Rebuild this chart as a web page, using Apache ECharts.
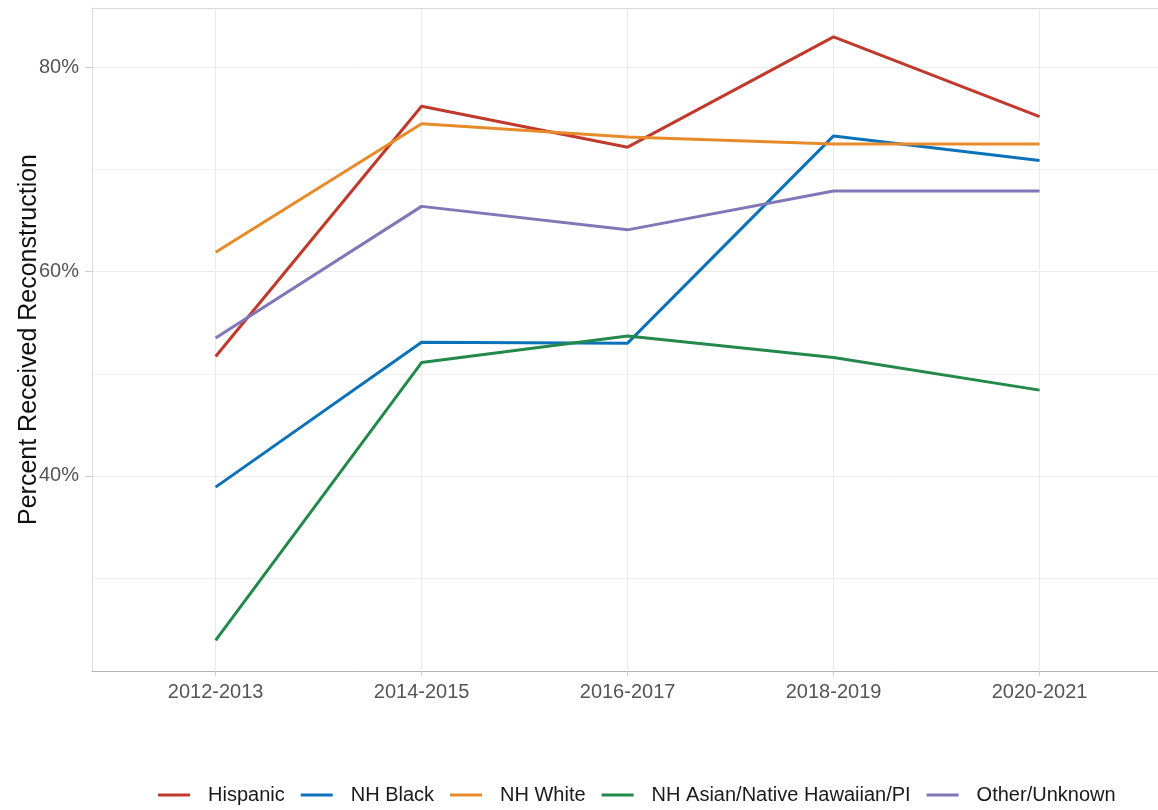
<!DOCTYPE html>
<html>
<head>
  <meta charset="utf-8">
  <title>Percent Received Reconstruction</title>
  <script src="https://cdn.jsdelivr.net/npm/echarts@6/dist/echarts.min.js"></script>
  <style>
    html, body { margin: 0; padding: 0; background: #fff; }
    #chart { width: 1158px; height: 810px; }
  </style>
</head>
<body>
  <div id="chart"></div>
  <script>
  // periods on the x axis
  var periods = ['2012-2013', '2014-2015', '2016-2017', '2018-2019', '2020-2021'];
  var groups = ['Hispanic', 'NH Black', 'NH White', 'NH Asian/Native Hawaiian/PI', 'Other/Unknown'];
  // percent received reconstruction
  var hispanic = [51.7, 76.2, 72.2, 83.0, 75.2];
  var nhBlack = [38.9, 53.1, 53.0, 73.3, 70.9];
  var nhWhite = [61.9, 74.5, 73.2, 72.5, 72.5];
  var nhAsian = [23.9, 51.1, 53.7, 51.6, 48.4];
  var other = [53.5, 66.4, 64.1, 67.9, 67.9];
  var majorTicks = [40, 60, 80];
  var minorTicks = [30, 50, 70];
  var colors = ['#c0392b', '#0b72b9', '#e78b2a', '#23894b', '#8077b9'];

  var chart = echarts.init(document.getElementById('chart'));
  var font = '"Liberation Sans", Arial, sans-serif';
  var xMin = -0.6, xMax = 4.575;   // panel runs a bit past the right edge
  var yMin = 20.89, yMax = 85.83;

  function pairs(arr) {
    return arr.map(function (v, i) { return [i, v]; });
  }

  var allData = [hispanic, nhBlack, nhWhite, nhAsian, other];
  var series = groups.map(function (g, k) {
    return {
      name: g,
      type: 'line',
      data: pairs(allData[k]),
      symbol: 'none',
      lineStyle: { width: 3, color: colors[k] },
      itemStyle: { color: colors[k] }
    };
  });

  var catIdx = periods.map(function (p, i) { return i; });

  var option = {
    animation: false,
    grid: { left: 92, right: 0, top: 8, bottom: 139, outerBoundsMode: 'none', containLabel: false },
    legend: {
      data: groups,
      left: 153, top: 780,
      icon: 'rect', itemWidth: 32, itemHeight: 3, itemGap: 16,
      textStyle: { fontFamily: font, fontSize: 20, color: '#1a1a1a', padding: [0, 0, 0, 13] }
    },
    xAxis: [{
      type: 'value', min: xMin, max: xMax,
      axisLine: { show: true, onZero: false, lineStyle: { color: '#b3b3b3', width: 1 } },
      axisTick: { show: true, length: 5, customValues: catIdx, lineStyle: { color: '#cfcfcf' } },
      axisLabel: {
        customValues: catIdx,
        formatter: function (v) { return periods[Math.round(v)]; },
        fontFamily: font, fontSize: 20, color: '#555', margin: 11
      },
      splitLine: { show: true, lineStyle: { color: '#ebebeb', width: 1 } }
    }, {
      // top edge of the panel
      type: 'value', min: xMin, max: xMax, position: 'top',
      axisLine: { show: true, onZero: false, lineStyle: { color: '#d9d9d9', width: 1 } },
      axisTick: { show: false },
      axisLabel: { show: false },
      splitLine: { show: false }
    }],
    yAxis: [{
      type: 'value', min: yMin, max: yMax,
      name: 'Percent Received Reconstruction',
      nameLocation: 'middle', nameGap: 50, nameRotate: 90, nameMoveOverlap: false,
      nameTextStyle: { fontFamily: font, fontSize: 25, color: '#111' },
      axisLine: { show: true, onZero: false, lineStyle: { color: '#d9d9d9', width: 1 } },
      axisTick: { show: true, length: 7, customValues: majorTicks, lineStyle: { color: '#cfcfcf' } },
      axisLabel: {
        customValues: majorTicks,
        formatter: function (v) { return v + '%'; },
        fontFamily: font, fontSize: 20, color: '#555', margin: 13
      },
      splitLine: { show: true, lineStyle: { color: '#ebebeb', width: 1 } }
    }, {
      // minor grid lines
      type: 'value', min: yMin, max: yMax, position: 'left',
      axisLine: { show: false, onZero: false },
      axisTick: { show: false, customValues: minorTicks },
      axisLabel: { show: false, customValues: minorTicks },
      splitLine: { show: true, lineStyle: { color: '#efefef', width: 1 } }
    }],
    series: series
  };

  chart.setOption(option);
  </script>
</body>
</html>
